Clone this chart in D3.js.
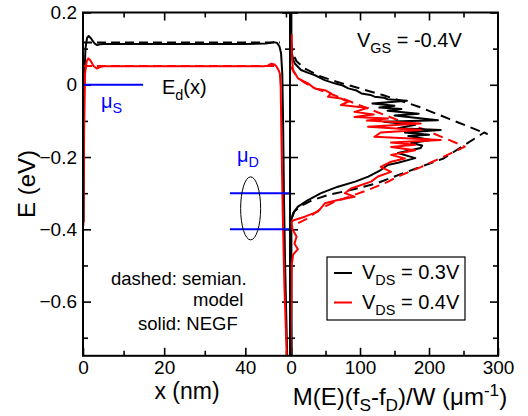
<!DOCTYPE html>
<html><head><meta charset="utf-8">
<script src="https://cdn.jsdelivr.net/npm/d3@7"></script>
<style>body{margin:0;background:#fff}svg{display:block}text{font-family:"Liberation Sans",Arial,Helvetica,sans-serif;fill:#000}</style>
</head><body><svg id="c" width="528" height="416"></svg>
<script>
// ---------- data ----------
// left panel: potential profile E_d(x) [x in nm, E in eV]
const potBlackSemi = [[0,0.117],[48.5,0.117]];
const potRedSemi   = [[0,0.052],[48.3,0.052]];
const potBlackNEGF = [[0.15,-0.38],[0.3,0.0],[0.6,0.1],[1.0,0.13],[1.4,0.135],[2.0,0.128],[2.8,0.115],[3.4,0.110],[4.2,0.112],[5,0.113],[10,0.113],[20,0.113],[30,0.113],[40,0.113],[45,0.114],[46.2,0.116],[47,0.118],[47.8,0.116],[48.4,0.106],[48.8,0.087],[49.1,0.03],[49.3,-0.1],[49.5,-0.3],[49.8,-0.5],[50.2,-0.7],[50.4,-0.8]];
const potRedNEGF   = [[0.1,-0.39],[0.3,-0.1],[0.5,0.03],[0.9,0.065],[1.3,0.073],[1.8,0.068],[2.6,0.052],[3.4,0.045],[4.2,0.049],[5,0.051],[10,0.051],[20,0.051],[30,0.051],[40,0.051],[44.5,0.051],[45.5,0.053],[46.3,0.058],[47,0.057],[47.6,0.052],[48.2,0.04],[48.5,0.031],[48.7,-0.005],[48.9,-0.15],[49.2,-0.35],[49.6,-0.55],[50.2,-0.75],[50.3,-0.8]];
const muS = 0.0;
const muD = [-0.3,-0.4];
// right panel: M(E)(fS-fD)/W [M in 1/um, E in eV]
const specBlackSemi = [[0,0.12],[1,0.1],[3,0.085],[8,0.065],[20,0.045],[40,0.025],[65,0.009],[133,-0.0285],[184,-0.060],[230,-0.095],[284,-0.136],[280,-0.132],[221,-0.204],[158,-0.248],[124,-0.273],[91,-0.289],[54,-0.305],[30,-0.32],[15,-0.335],[5,-0.35],[1,-0.37],[0,-0.39]];
const specRedSemi = [[0,0.05],[4,0.035],[10,0.02],[20,0.005],[35,-0.01],[60,-0.027],[100,-0.057],[155,-0.098],[189,-0.121],[252,-0.171],[237,-0.185],[189,-0.227],[155,-0.254],[141,-0.268],[112,-0.291],[63,-0.324],[44,-0.342],[22,-0.372],[8,-0.385],[0,-0.395]];
const specBlackNEGF = [[0.5,0.2],[0.5,0.12],[1,0.09],[3,0.07],[5.4,0.059],[14.5,0.041],[25,0.033],[34,0.027],[48.8,0.013],[63,0.004],[75,-0.002],[83,-0.010],[95,-0.016],[102,-0.024],[115,-0.028],[121,-0.033],[135,-0.036],[140,-0.040],[168,-0.044],[118,-0.052],[150,-0.058],[128,-0.063],[160,-0.067],[140,-0.072],[185,-0.080],[150,-0.085],[213,-0.098],[135,-0.102],[180,-0.111],[155,-0.120],[217,-0.125],[165,-0.132],[200,-0.138],[170,-0.142],[203,-0.153],[174,-0.161],[190,-0.168],[188,-0.175],[155,-0.189],[180,-0.203],[155,-0.216],[140,-0.222],[130,-0.236],[112,-0.254],[93,-0.268],[68,-0.282],[43.5,-0.300],[24.6,-0.319],[10,-0.337],[3,-0.355],[0.5,-0.374],[0.5,-0.5],[1,-0.76]];
const specRedNEGF = [[1,0.14],[1,0.08],[2.9,0.041],[10,0.018],[24.6,0.004],[34,-0.010],[49,-0.015],[58,-0.024],[53.6,-0.033],[72.5,-0.038],[82.6,-0.047],[72.5,-0.056],[111.6,-0.064],[92,-0.075],[120,-0.082],[92,-0.089],[140.6,-0.093],[110,-0.099],[188,-0.107],[111.6,-0.116],[188,-0.125],[130,-0.132],[121,-0.144],[217,-0.153],[145,-0.160],[180,-0.166],[145,-0.172],[180,-0.181],[145,-0.194],[165,-0.204],[145,-0.213],[130,-0.227],[145,-0.241],[126,-0.254],[116,-0.268],[87,-0.287],[78,-0.300],[92,-0.310],[68,-0.319],[49,-0.328],[39,-0.351],[20,-0.365],[5,-0.374],[0.5,-0.379],[2,-0.40],[8,-0.42],[5,-0.44],[10,-0.455],[3,-0.47],[1,-0.5],[0.5,-0.6],[-1,-0.76]];
// ticks
const yMajor = [0.2,0,-0.2,-0.4,-0.6];
const yMinor = [0.1,-0.1,-0.3,-0.5,-0.7];
const xLMajor = [0,20,40], xLMinor = [10,30,50];
const xRMajor = [0,100,200,300], xRMinor = [50,150,250];
const legendLabels = [["0.3V","#000"],["0.4V","#f00"]];

// ---------- layout ----------
const svg = d3.select("#c");
const T = 12.5, B = 355.8;
const y  = d3.scaleLinear([-0.75,0.2],[B,T]);
const xL = d3.scaleLinear([0,51],[83,290]);
const xR = d3.scaleLinear([-1.5,300],[290,498]);
const fmtY = d => d===0 ? "0" : d3.format(".1f")(d);
const FS = 20;

const defs = svg.append("defs");
defs.append("clipPath").attr("id","cl").append("rect").attr("x",83).attr("y",T).attr("width",207).attr("height",B-T);
defs.append("clipPath").attr("id","cr").append("rect").attr("x",290).attr("y",T).attr("width",208).attr("height",B-T);

function styleAxis(g){ g.select(".domain").remove(); g.selectAll("line").attr("stroke","#000").attr("stroke-width",1.6); g.selectAll("text").attr("font-size",19).attr("font-family","Liberation Sans, Arial, sans-serif").attr("fill","#000"); }

// left panel axes
svg.append("g").attr("transform",`translate(83,0)`).call(d3.axisLeft(y).tickValues(yMajor).tickSize(-8).tickPadding(6).tickFormat(fmtY)).call(styleAxis);
svg.append("g").attr("transform",`translate(83,0)`).call(d3.axisLeft(y).tickValues(yMinor).tickSize(-5).tickFormat("")).call(styleAxis);
// shared middle axis: ticks both sides
svg.append("g").attr("transform",`translate(290,0)`).call(d3.axisRight(y).tickValues(yMajor).tickSize(-8).tickFormat("")).call(styleAxis);
svg.append("g").attr("transform",`translate(290,0)`).call(d3.axisLeft(y).tickValues(yMajor).tickSize(-8).tickFormat("")).call(styleAxis);
svg.append("g").attr("transform",`translate(290,0)`).call(d3.axisRight(y).tickValues(yMinor).tickSize(-5).tickFormat("")).call(styleAxis);
svg.append("g").attr("transform",`translate(290,0)`).call(d3.axisLeft(y).tickValues(yMinor).tickSize(-5).tickFormat("")).call(styleAxis);
// right panel right axis
svg.append("g").attr("transform",`translate(498,0)`).call(d3.axisRight(y).tickValues(yMajor).tickSize(-8).tickFormat("")).call(styleAxis);
svg.append("g").attr("transform",`translate(498,0)`).call(d3.axisRight(y).tickValues(yMinor).tickSize(-5).tickFormat("")).call(styleAxis);
// bottom / top axes
svg.append("g").attr("transform",`translate(0,${B})`).call(d3.axisBottom(xL).tickValues(xLMajor).tickSize(-8).tickPadding(5).tickFormat(d3.format("d"))).call(styleAxis);
svg.append("g").attr("transform",`translate(0,${B})`).call(d3.axisBottom(xL).tickValues(xLMinor).tickSize(-5).tickFormat("")).call(styleAxis);
svg.append("g").attr("transform",`translate(0,${T})`).call(d3.axisTop(xL).tickValues(xLMajor.filter(d=>d>0)).tickSize(-8).tickFormat("")).call(styleAxis);
svg.append("g").attr("transform",`translate(0,${T})`).call(d3.axisTop(xL).tickValues(xLMinor).tickSize(-5).tickFormat("")).call(styleAxis);
svg.append("g").attr("transform",`translate(0,${B})`).call(d3.axisBottom(xR).tickValues(xRMajor).tickSize(-8).tickPadding(5).tickFormat(d3.format("d"))).call(styleAxis);
svg.append("g").attr("transform",`translate(0,${B})`).call(d3.axisBottom(xR).tickValues(xRMinor).tickSize(-5).tickFormat("")).call(styleAxis);
svg.append("g").attr("transform",`translate(0,${T})`).call(d3.axisTop(xR).tickValues(xRMajor.filter(d=>d>0&&d<300)).tickSize(-8).tickFormat("")).call(styleAxis);
svg.append("g").attr("transform",`translate(0,${T})`).call(d3.axisTop(xR).tickValues(xRMinor).tickSize(-5).tickFormat("")).call(styleAxis);

// curves
const lineL = d3.line().x(d=>xL(d[0])).y(d=>y(d[1]));
const lineR = d3.line().x(d=>xR(d[0])).y(d=>y(d[1]));
const gl = svg.append("g").attr("clip-path","url(#cl)");
const gr = svg.append("g").attr("clip-path","url(#cr)");
function draw(g,line,data,color,dash){
  g.append("path").attr("d",line(data)).attr("fill","none").attr("stroke",color).attr("stroke-width",2)
   .attr("stroke-linejoin","round").attr("stroke-dasharray",dash||null);
}
draw(gl,lineL,potBlackSemi,"#000","9,5");
draw(gl,lineL,potBlackNEGF,"#000");
draw(gl,lineL,potRedSemi,"#f00","9,5");
draw(gl,lineL,potRedNEGF,"#f00");
draw(gr,lineR,specBlackSemi,"#000","10,6");
draw(gr,lineR,specRedSemi,"#f00","10,6");
draw(gr,lineR,specBlackNEGF,"#000");
draw(gr,lineR,specRedNEGF,"#f00");

// mu lines
const blue = "#0000ff";
svg.append("line").attr("x1",xL(0)).attr("x2",xL(14.8)).attr("y1",y(muS)).attr("y2",y(muS)).attr("stroke",blue).attr("stroke-width",2);
muD.forEach(m=>svg.append("line").attr("x1",xL(36.2)).attr("x2",xL(51)).attr("y1",y(m)).attr("y2",y(m)).attr("stroke",blue).attr("stroke-width",2));
svg.append("ellipse").attr("cx",xL(41.3)).attr("cy",y(-0.342)).attr("rx",10).attr("ry",31.5).attr("fill","none").attr("stroke","#000").attr("stroke-width",1);

// frame
svg.append("rect").attr("x",83).attr("y",T).attr("width",415).attr("height",B-T).attr("fill","none").attr("stroke","#000").attr("stroke-width",2);
svg.append("line").attr("x1",290).attr("x2",290).attr("y1",T).attr("y2",B).attr("stroke","#000").attr("stroke-width",2);

// texts
function sub(t,parts,size){
  parts.forEach(p=>{
    const ts=t.append("tspan").text(p.t);
    if(p.sub){ts.attr("font-size",size*0.72).attr("dy",p.dy);} else if(p.dy){ts.attr("dy",p.dy).attr("font-size",size);}
  });
  return t;
}
const tx = (x,yy,size,anchor,fill)=>svg.append("text").attr("x",x).attr("y",yy).attr("font-size",size).attr("text-anchor",anchor||"start").attr("fill",fill||"#000");
sub(tx(162,94,FS),[{t:"E"},{t:"d",sub:1,dy:6},{t:"(x)",dy:-6}],FS);
sub(tx(101,108,FS,"start",blue).style("fill",blue),[{t:"μ"},{t:"S",sub:1,dy:5}],FS);
sub(tx(237,162,FS,"start",blue).style("fill",blue),[{t:"μ"},{t:"D",sub:1,dy:5}],FS);
sub(tx(357,47,FS),[{t:"V"},{t:"GS",sub:1,dy:6},{t:" = -0.4V",dy:-6}],FS);
tx(111,285,18.5).text("dashed: semian.");
tx(193,306,18.5).text("model");
tx(138,330,18.5).text("solid: NEGF");

// legend
svg.append("rect").attr("x",327).attr("y",257).attr("width",138).attr("height",63).attr("fill","#fff").attr("stroke","#000").attr("stroke-width",1.2);
legendLabels.forEach((d,i)=>{
  const yy = 273 + i*29.5;
  svg.append("line").attr("x1",334).attr("x2",352).attr("y1",yy).attr("y2",yy).attr("stroke",d[1]).attr("stroke-width",2);
  sub(tx(362,yy+6,FS),[{t:"V"},{t:"DS",sub:1,dy:6},{t:" = "+d[0],dy:-6}],FS);
});

// axis titles
svg.append("text").attr("transform","translate(35,184) rotate(-90)").attr("text-anchor","middle").attr("font-size",24).text("E (eV)");
tx(187,399,23,"middle").text("x (nm)");
sub(tx(400,405,24,"middle"),[{t:"M(E)(f"},{t:"S",sub:1,dy:6},{t:"-f",dy:-6},{t:"D",sub:1,dy:6},{t:")/W (μm",dy:-6},{t:"-1",sub:1,dy:-9},{t:")",dy:9}],24);
</script></body></html>
